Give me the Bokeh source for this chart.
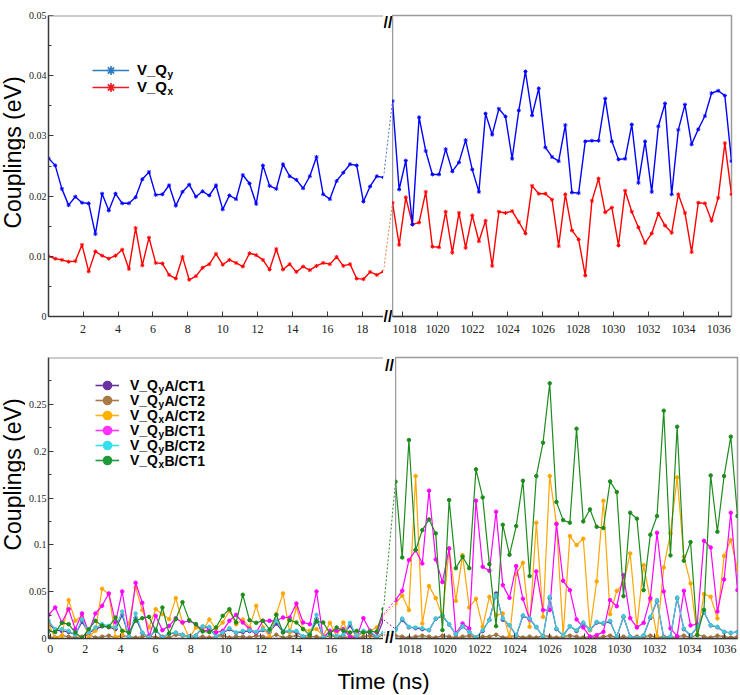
import math
from bokeh.plotting import figure
from bokeh.layouts import column, row
from bokeh.models import (Range1d, LinearAxis, FixedTicker, CustomJSTickFormatter,
                          Span, Label, Legend, LegendItem, Plot)
from bokeh.embed import file_html
from bokeh.resources import INLINE

# ---------------- data ----------------
t_left = [0.0, 0.4, 0.8, 1.2, 1.6, 2.0, 2.4, 2.8, 3.2, 3.6, 4.0, 4.4, 4.8, 5.2, 5.6, 6.0, 6.4,
          6.8, 7.2, 7.6, 8.0, 8.4, 8.8, 9.2, 9.6, 10.0, 10.4, 10.8, 11.2, 11.6, 12.0, 12.4, 12.8,
          13.2, 13.6, 14.0, 14.4, 14.8, 15.2, 15.6, 16.0, 16.4, 16.8, 17.2, 17.6, 18.0, 18.4,
          18.8, 19.2, 19.6, 20.0]
t_right = [1016.1, 1016.5, 1016.9, 1017.3, 1017.7, 1018.1, 1018.5, 1018.9, 1019.3, 1019.7,
           1020.1, 1020.5, 1020.9, 1021.3, 1021.7, 1022.1, 1022.5, 1022.9, 1023.3, 1023.7,
           1024.1, 1024.5, 1024.9, 1025.3, 1025.7, 1026.1, 1026.5, 1026.9, 1027.3, 1027.7,
           1028.1, 1028.5, 1028.9, 1029.3, 1029.7, 1030.1, 1030.5, 1030.9, 1031.3, 1031.7,
           1032.1, 1032.5, 1032.9, 1033.3, 1033.7, 1034.1, 1034.5, 1034.9, 1035.3, 1035.7,
           1036.1, 1036.5]

x_ticks_left = [0, 2, 4, 6, 8, 10, 12, 14, 16, 18]
x_ticks_right = [1018, 1020, 1022, 1024, 1026, 1028, 1030, 1032, 1034, 1036]
y_ticks_top = [0, 0.01, 0.02, 0.03, 0.04, 0.05]
y_minor_top = [0.005, 0.015, 0.025, 0.035, 0.045]
y_ticks_bottom = [0, 0.05, 0.1, 0.15, 0.2, 0.25]
y_minor_bottom = [0.025, 0.075, 0.125, 0.175, 0.225, 0.275]
y_max_top = 0.05
y_max_bottom = 0.30

y_title = "Couplings (eV)"
x_title = "Time (ns)"
top_names = ["V_Qy", "V_Qx"]
bottom_names = ["V_QyA/CT1", "V_QyA/CT2", "V_QxA/CT2", "V_QyB/CT1", "V_QyB/CT2", "V_QxB/CT1"]

# top panel
qy_left = [0.0263, 0.0251, 0.0212, 0.0185, 0.0199, 0.0189, 0.0188, 0.0137, 0.0204, 0.0176,
           0.0204, 0.0188, 0.0188, 0.0198, 0.0228, 0.0240, 0.0202, 0.0203, 0.0218, 0.0184,
           0.0207, 0.0219, 0.0199, 0.0208, 0.0201, 0.0218, 0.0178, 0.0201, 0.0195, 0.0235,
           0.0221, 0.0187, 0.0251, 0.0217, 0.0212, 0.0253, 0.0233, 0.0227, 0.0213, 0.0233,
           0.0265, 0.0203, 0.0195, 0.0225, 0.0239, 0.0253, 0.0251, 0.0191, 0.0216, 0.0233, 0.0231]
qx_left = [0.0100, 0.0096, 0.0094, 0.0091, 0.0092, 0.0119, 0.0075, 0.0108, 0.0101, 0.0096,
           0.0101, 0.0111, 0.0079, 0.0147, 0.0085, 0.0131, 0.0089, 0.0088, 0.0069, 0.0063,
           0.0099, 0.0061, 0.0067, 0.0081, 0.0087, 0.0104, 0.0086, 0.0094, 0.0089, 0.0083,
           0.0105, 0.0102, 0.0094, 0.0078, 0.0112, 0.0078, 0.0087, 0.0074, 0.0083, 0.0077,
           0.0084, 0.0089, 0.0087, 0.0099, 0.0084, 0.0087, 0.0063, 0.0062, 0.0074, 0.0069, 0.0075]
qy_right = [0.0358, 0.0211, 0.0259, 0.0153, 0.0331, 0.0275, 0.0236, 0.0236, 0.0278, 0.0241,
            0.0256, 0.0293, 0.0244, 0.0207, 0.0337, 0.0302, 0.0345, 0.0332, 0.0262, 0.0342,
            0.0407, 0.0334, 0.0379, 0.0281, 0.0265, 0.0258, 0.0318, 0.0206, 0.0205, 0.0291,
            0.0292, 0.0292, 0.0362, 0.0291, 0.0261, 0.0262, 0.0319, 0.0222, 0.0291, 0.0207,
            0.0316, 0.0354, 0.0203, 0.0310, 0.0352, 0.0286, 0.0311, 0.0333, 0.0371, 0.0375,
            0.0367, 0.0258]
qx_right = [0.0189, 0.0119, 0.0198, 0.0153, 0.0156, 0.0207, 0.0116, 0.0115, 0.0174, 0.0106,
            0.0172, 0.0114, 0.0168, 0.0125, 0.0159, 0.0084, 0.0174, 0.0172, 0.0175, 0.0157,
            0.0138, 0.0217, 0.0204, 0.0204, 0.0194, 0.0117, 0.0203, 0.0143, 0.0128, 0.0068,
            0.0192, 0.0229, 0.0173, 0.0181, 0.0118, 0.0209, 0.0174, 0.0148, 0.0122, 0.0138,
            0.0171, 0.0151, 0.0139, 0.0203, 0.0172, 0.0107, 0.0189, 0.0188, 0.0159, 0.0197,
            0.0288, 0.0203]

# bottom panel
yA1_left = [0.016, 0.009, 0.008, 0.007, 0.004, 0.018, 0.006, 0.010, 0.013, 0.012,
            0.010, 0.025, 0.002, 0.022, 0.006, 0.001, 0.009, 0.001, 0.005, 0.006,
            0.004, 0.002, 0.003, 0.012, 0.011, 0.002, 0.006, 0.010, 0.006, 0.007,
            0.008, 0.006, 0.009, 0.007, 0.016, 0.007, 0.007, 0.007, 0.002, 0.004,
            0.021, 0.001, 0.004, 0.002, 0.003, 0.014, 0.002, 0.007, 0.006, 0.002, 0.020]
yA2_left = [0.002, 0.001, 0.003, 0.002, 0.001, 0.002, 0.004, 0.001, 0.002, 0.003,
            0.001, 0.003, 0.002, 0.001, 0.002, 0.003, 0.001, 0.002, 0.001, 0.004,
            0.003, 0.002, 0.001, 0.002, 0.001, 0.002, 0.003, 0.001, 0.002, 0.002,
            0.001, 0.003, 0.002, 0.001, 0.004, 0.001, 0.002, 0.003, 0.001, 0.002,
            0.002, 0.001, 0.003, 0.002, 0.001, 0.002, 0.001, 0.002, 0.003, 0.001, 0.004]
xA2_left = [0.0153, 0.0004, 0.0028, 0.0410, 0.0189, 0.0242, 0.0018, 0.0082, 0.0531, 0.0474,
            0.0018, 0.0039, 0.0160, 0.0545, 0.0303, 0.0118, 0.0313, 0.0260, 0.0207, 0.0431,
            0.0171, 0.0004, 0.0118, 0.0082, 0.0203, 0.0100, 0.0171, 0.0296, 0.0153, 0.0203,
            0.0118, 0.0349, 0.0118, 0.0018, 0.0260, 0.0481, 0.0064, 0.0331, 0.0100, 0.0082,
            0.0100, 0.0028, 0.0167, 0.0028, 0.0171, 0.0028, 0.0028, 0.0064, 0.0082, 0.0118, 0.0242]
yB1_left = [0.0253, 0.0331, 0.0171, 0.0313, 0.0100, 0.0267, 0.0064, 0.0267, 0.0349, 0.0481,
            0.0171, 0.0502, 0.0064, 0.0595, 0.0381, 0.0018, 0.0242, 0.0089, 0.0135, 0.0217,
            0.0171, 0.0189, 0.0153, 0.0082, 0.0089, 0.0064, 0.0082, 0.0189, 0.0253, 0.0171,
            0.0100, 0.0064, 0.0189, 0.0189, 0.0189, 0.0224, 0.0224, 0.0374, 0.0171, 0.0153,
            0.0502, 0.0011, 0.0082, 0.0082, 0.0100, 0.0018, 0.0011, 0.0217, 0.0082, 0.0064, 0.0260]
yB2_left = [0.0189, 0.0100, 0.0100, 0.0082, 0.0039, 0.0207, 0.0064, 0.0118, 0.0153, 0.0135,
            0.0118, 0.0288, 0.0018, 0.0267, 0.0064, 0.0011, 0.0100, 0.0011, 0.0053, 0.0064,
            0.0039, 0.0018, 0.0028, 0.0132, 0.0125, 0.0018, 0.0064, 0.0110, 0.0064, 0.0082,
            0.0089, 0.0071, 0.0100, 0.0082, 0.0189, 0.0082, 0.0082, 0.0082, 0.0018, 0.0046,
            0.0253, 0.0011, 0.0046, 0.0028, 0.0039, 0.0167, 0.0028, 0.0082, 0.0075, 0.0018, 0.0064]
xB1_left = [0.0082, 0.0068, 0.0167, 0.0153, 0.0064, 0.0004, 0.0100, 0.0189, 0.0135, 0.0125,
            0.0224, 0.0082, 0.0064, 0.0189, 0.0217, 0.0231, 0.0082, 0.0331, 0.0053, 0.0207,
            0.0388, 0.0196, 0.0153, 0.0075, 0.0068, 0.0118, 0.0242, 0.0313, 0.0171, 0.0467,
            0.0196, 0.0167, 0.0189, 0.0096, 0.0253, 0.0064, 0.0196, 0.0171, 0.0100, 0.0039,
            0.0182, 0.0171, 0.0053, 0.0118, 0.0082, 0.0064, 0.0082, 0.0064, 0.0075, 0.0075, 0.0313]

yA1_right = [0.010, 0.020, 0.012, 0.011, 0.010, 0.009, 0.021, 0.024, 0.015, 0.004,
             0.013, 0.007, 0.001, 0.008, 0.020, 0.048, 0.020, 0.014, 0.003, 0.024,
             0.021, 0.012, 0.002, 0.043, 0.010, 0.003, 0.013, 0.008, 0.016, 0.009,
             0.017, 0.016, 0.018, 0.002, 0.023, 0.002, 0.001, 0.003, 0.022, 0.040,
             0.001, 0.002, 0.043, 0.010, 0.003, 0.012, 0.028, 0.014, 0.012, 0.007,
             0.006, 0.007]
yA2_right = [0.003, 0.002, 0.001, 0.002, 0.003, 0.002, 0.001, 0.003, 0.002, 0.001,
             0.002, 0.003, 0.001, 0.002, 0.002, 0.004, 0.001, 0.002, 0.003, 0.001,
             0.002, 0.001, 0.003, 0.002, 0.001, 0.002, 0.003, 0.002, 0.001, 0.002,
             0.001, 0.002, 0.003, 0.001, 0.002, 0.001, 0.002, 0.002, 0.003, 0.001,
             0.002, 0.001, 0.002, 0.003, 0.001, 0.004, 0.002, 0.001, 0.003, 0.002,
             0.001, 0.002]
xA2_right = [0.0374, 0.0459, 0.0303, 0.1734, 0.0160, 0.0559, 0.0431, 0.0231, 0.0958, 0.0402,
             0.0890, 0.0331, 0.0424, 0.0125, 0.0445, 0.0249, 0.0267, 0.0018, 0.0687, 0.0808,
             0.0125, 0.1236, 0.0231, 0.1734, 0.1229, 0.0036, 0.1093, 0.0997, 0.1065, 0.0089,
             0.0609, 0.1471, 0.0260, 0.0509, 0.0588, 0.0908, 0.0125, 0.0783, 0.0410, 0.0025,
             0.0759, 0.1122, 0.1720, 0.0873, 0.0588, 0.0036, 0.0474, 0.0445, 0.0214, 0.0880,
             0.1051, 0.0737]
yB1_right = [0.0410, 0.0509, 0.0837, 0.0944, 0.0801, 0.1578, 0.0844, 0.0602, 0.0962, 0.0053,
             0.0160, 0.0107, 0.1471, 0.0766, 0.0723, 0.1353, 0.0570, 0.0434, 0.0773, 0.0424,
             0.0203, 0.0716, 0.0303, 0.0303, 0.1222, 0.0616, 0.0516, 0.0203, 0.0118, 0.0018,
             0.0036, 0.0071, 0.0410, 0.0345, 0.0677, 0.0217, 0.0118, 0.0167, 0.0431, 0.1129,
             0.0502, 0.0107, 0.0025, 0.0509, 0.0139, 0.0153, 0.1043, 0.0972, 0.0288, 0.0630,
             0.1343, 0.0516]
yB2_right = [0.0089, 0.0214, 0.0125, 0.0118, 0.0110, 0.0089, 0.0214, 0.0249, 0.0153, 0.0046,
             0.0132, 0.0071, 0.0011, 0.0089, 0.0196, 0.0463, 0.0214, 0.0142, 0.0036, 0.0249,
             0.0214, 0.0125, 0.0018, 0.0445, 0.0107, 0.0036, 0.0132, 0.0089, 0.0171, 0.0096,
             0.0178, 0.0167, 0.0189, 0.0018, 0.0239, 0.0018, 0.0004, 0.0036, 0.0231, 0.0410,
             0.0004, 0.0018, 0.0438, 0.0107, 0.0036, 0.0125, 0.0285, 0.0142, 0.0125, 0.0071,
             0.0061, 0.0068]
xB1_right = [0.1674, 0.0865, 0.2119, 0.0944, 0.1157, 0.1271, 0.1122, 0.0089, 0.1478, 0.0751,
             0.0873, 0.0751, 0.1806, 0.1506, 0.0794, 0.0132, 0.1214, 0.0894, 0.1200, 0.1684,
             0.0666, 0.1734, 0.2090, 0.2724, 0.1457, 0.1264, 0.1236, 0.2240, 0.1250, 0.1378,
             0.1193, 0.1179, 0.1677, 0.1563, 0.0452, 0.1343, 0.1279, 0.0516, 0.1108, 0.1307,
             0.2432, 0.0887, 0.2261, 0.0830, 0.1029, 0.0036, 0.0306, 0.1741, 0.1140, 0.1734,
             0.2155, 0.1307]

# ---------------- styling ----------------
SANS = "Liberation Sans"
SERIF = "Liberation Serif"
AX = "#3a3a3a"
FRAME = "#9a9a9a"
NAN = float("nan")
FA = {"frame_align": False} if "frame_align" in Plot.properties() else {}

top_data_colors = ["#0000ff", "#ff0000"]
top_leg_colors = ["#2a7cc0", "#ee1c24"]
bot_colors = ["#6a329f", "#a0703a", "#ffa500", "#ff00ff", "#45c8d8", "#1c8c1c"]
bot_leg_colors = ["#6a329f", "#a87a45", "#ffb000", "#ff33ff", "#33e0ee", "#1f9a3a"]

# page layout (pixels)
TITLE_W = 25
LEFT_W = 383 - TITLE_W
YAX_W = 21
TOP_H, BOT_H, FOOT_H = 348, 314, 32
TOP_GAP, BOT_GAP = 9, 12
TOP_RIGHT_W = 739 - 383 - TOP_GAP
BOT_RIGHT_W = 739 - 383 - BOT_GAP
T_BT, T_BB = 15, 32     # top row: border above / below the frames
B_BT, B_BB = 9, 24      # bottom row


def bare(width, height, xr, yr):
    f = figure(width=width, height=height, x_range=xr, y_range=yr,
               output_backend="svg", toolbar_location=None, x_axis_location=None,
               y_axis_location=None, min_border=0, outline_line_color=None, **FA)
    f.xgrid.visible = False
    f.ygrid.visible = False
    return f


def base(width, height, xr, yr, bl, br, bt, bb):
    p = figure(width=width, height=height, x_range=xr, y_range=yr,
               output_backend="svg", toolbar_location=None,
               x_axis_location=None, y_axis_location=None,
               min_border_left=bl, min_border_right=br,
               min_border_top=bt, min_border_bottom=bb,
               background_fill_color="white", border_fill_color="white")
    p.xgrid.visible = False
    p.ygrid.visible = False
    return p


def x_axis(p, ticks, lab_range, standoff):
    p.extra_x_ranges = {"lab": lab_range}
    p.add_layout(LinearAxis(x_range_name="lab", ticker=FixedTicker(ticks=ticks, minor_ticks=[]),
                            major_tick_in=5, major_tick_out=0, minor_tick_in=0, minor_tick_out=0,
                            major_tick_line_color=AX, axis_line_color=AX, axis_line_width=1.5,
                            major_label_standoff=standoff,
                            major_label_text_font=SERIF, major_label_text_font_size="12px",
                            major_label_text_color="#222222",
                            formatter=CustomJSTickFormatter(code="return tick.toFixed(0);")),
                 "below")


def y_axis(p, ticks, minor):
    p.add_layout(LinearAxis(ticker=FixedTicker(ticks=ticks, minor_ticks=minor),
                            major_tick_in=5, major_tick_out=0, minor_tick_in=3, minor_tick_out=0,
                            major_tick_line_color=AX, minor_tick_line_color=AX,
                            axis_line_color=AX, axis_line_width=1.5,
                            major_label_standoff=2, major_label_text_font=SERIF,
                            major_label_text_font_size="10px", major_label_text_color="#222222",
                            formatter=CustomJSTickFormatter(
                                code="return tick === 0 ? '0' : String(parseFloat(tick.toFixed(3)));")),
                 "left")


def series(p, t, v, color, marker, size, lw):
    p.line(t, v, line_color=color, line_width=lw)
    p.scatter(t, v, marker=marker, size=size, line_color=color, fill_color=color)


def legend(p, colors, names, marker, msize, gw, gh, vx, centers, standoff, fsize,
           subsize, drop, w_pre, w_sub):
    for c, n, yc in zip(colors, names, centers):
        r1 = p.line(x=[NAN], y=[NAN], line_color=c, line_width=1.6)
        r2 = p.scatter(x=[NAN], y=[NAN], marker=marker, size=msize, line_color=c,
                       fill_color=c, line_width=1.6)
        p.add_layout(Legend(items=[LegendItem(label=n[:3], renderers=[r1, r2])],
                            location=(vx, yc - gh / 2), orientation="vertical",
                            padding=0, margin=0, spacing=0, glyph_width=gw, glyph_height=gh,
                            label_height=gh, label_standoff=standoff, label_text_font=SANS,
                            label_text_font_style="bold", label_text_font_size=fsize,
                            label_text_baseline="middle", label_text_color="black",
                            border_line_color=None, background_fill_alpha=0))
        x_sub = vx + gw + standoff + w_pre
        p.add_layout(Label(x=x_sub, y=yc - drop, x_units="screen", y_units="screen", text=n[3],
                           text_font=SANS, text_font_style="bold", text_font_size=subsize,
                           text_baseline="middle", text_color="black"))
        if n[4:]:
            p.add_layout(Label(x=x_sub + w_sub, y=yc, x_units="screen", y_units="screen",
                               text=n[4:], text_font=SANS, text_font_style="bold",
                               text_font_size=fsize, text_baseline="middle",
                               text_color="black"))


def lab_range(first_px, last_px, first_val, last_val, frame_left, frame_w):
    s = (last_px - first_px) / (last_val - first_val)
    start = first_val - (first_px - frame_left) / s
    return Range1d(start, start + frame_w / s)


def title_fig(height, yc):
    f = bare(TITLE_W, height, Range1d(0, 1), Range1d(0, 1))
    f.scatter(x=[NAN], y=[NAN])
    f.add_layout(Label(x=12.5, y=yc, x_units="screen", y_units="screen", text=y_title,
                       angle=math.pi / 2, text_align="center", text_baseline="middle",
                       text_font=SANS, text_font_size="23px", text_color="black"))
    return f


def gap_fig(width, height, lvals, rvals, colors, ymax, bt, bb, marks):
    ppu = (height - bt - bb) / ymax
    g = bare(width, height, Range1d(t_left[-1], t_right[0]),
             Range1d(-bb / ppu, ymax + bt / ppu))
    for vl, vr, c in zip(lvals, rvals, colors):
        g.line([t_left[-1], t_right[0]], [vl[-1], vr[0]], line_color=c, line_width=1,
               line_dash="2 2")
    for y in marks:
        g.add_layout(Label(x=width / 2, y=y, x_units="screen", y_units="screen", text="//",
                           text_font=SANS, text_font_style="bold", text_font_size="16px",
                           text_align="center", text_baseline="middle", text_color="black"))
    return g


# ---------------- top row ----------------
tl = base(LEFT_W, TOP_H, Range1d(t_left[0], t_left[-1]), Range1d(0, y_max_top),
          YAX_W, 0, T_BT, T_BB)
tl.outline_line_color = None
y_axis(tl, y_ticks_top, y_minor_top)
x_axis(tl, x_ticks_left, lab_range(45.7, 361.7, 0, 18, 46, 337), 8)
tl.add_layout(Span(location=y_max_top, dimension="width", line_color=FRAME, line_width=2))
series(tl, t_left, qx_left, top_data_colors[1], "asterisk", 4, 1.4)
series(tl, t_left, qy_left, top_data_colors[0], "asterisk", 4, 1.4)
legend(tl, top_leg_colors, top_names, "asterisk", 9, 37, 22, 44, [246.5, 229.5], 8, "15px",
       "10px", 4, 30, 6)

tg = gap_fig(TOP_GAP, TOP_H, [qy_left, qx_left], [qy_right, qx_right], ["#4a6fd0", "#e07a40"],
             y_max_top, T_BT, T_BB, [TOP_H - 22, T_BB])

tr = base(TOP_RIGHT_W, TOP_H, Range1d(t_right[0], t_right[-1]), Range1d(0, y_max_top),
          0, 8, T_BT, T_BB)
tr.outline_line_color = FRAME
tr.outline_line_width = 1.5
x_axis(tr, x_ticks_right, lab_range(401.7, 718.3, 1018, 1036, 392, TOP_RIGHT_W - 8), 8)
series(tr, t_right, qx_right, top_data_colors[1], "asterisk", 4, 1.4)
series(tr, t_right, qy_right, top_data_colors[0], "asterisk", 4, 1.4)

# ---------------- bottom row ----------------
left_bottom = [yA1_left, yA2_left, xA2_left, yB1_left, yB2_left, xB1_left]
right_bottom = [yA1_right, yA2_right, xA2_right, yB1_right, yB2_right, xB1_right]

bl = base(LEFT_W, BOT_H, Range1d(t_left[0], t_left[-1]), Range1d(0, y_max_bottom),
          YAX_W, 0, B_BT, B_BB)
bl.outline_line_color = None
y_axis(bl, y_ticks_bottom, y_minor_bottom)
x_axis(bl, x_ticks_left, lab_range(47.7, 365.7, 0, 18, 46, 337), 6)
bl.add_layout(Span(location=y_max_bottom, dimension="width", line_color=FRAME, line_width=2))
for vals, c in zip(left_bottom, bot_colors):
    series(bl, t_left, vals, c, "circle", 3.5, 1.2)
legend(bl, bot_leg_colors, bottom_names, "circle", 8, 24, 20, 47,
       [253, 238, 223, 208, 193, 178], 11, "14px", "10px", 4, 28, 6)

bg = gap_fig(BOT_GAP, BOT_H, left_bottom, right_bottom, bot_colors, y_max_bottom, B_BT, B_BB,
             [BOT_H - 17, B_BB + 1])

br = base(BOT_RIGHT_W, BOT_H, Range1d(t_right[0], t_right[-1]), Range1d(0, y_max_bottom),
          0, 2, B_BT, B_BB)
br.outline_line_color = FRAME
br.outline_line_width = 1.5
x_axis(br, x_ticks_right, lab_range(409.3, 724.0, 1018, 1036, 395, BOT_RIGHT_W - 2), 6)
for vals, c in zip(right_bottom, bot_colors):
    series(br, t_right, vals, c, "circle", 3.5, 1.2)

# ---------------- footer (x title) ----------------
foot = bare(739, FOOT_H, Range1d(0, 1), Range1d(0, 1))
foot.scatter(x=[NAN], y=[NAN])
foot.add_layout(Label(x=383, y=13, x_units="screen", y_units="screen", text=x_title,
                      text_font=SANS, text_font_size="22px", text_align="center",
                      text_baseline="alphabetic", text_color="black"))

layout = column(
    row(title_fig(TOP_H, TOP_H - 152), tl, tg, tr),
    row(title_fig(BOT_H, BOT_H - 126), bl, bg, br),
    foot,
)
open("out.html", "w").write(file_html(layout, INLINE))
